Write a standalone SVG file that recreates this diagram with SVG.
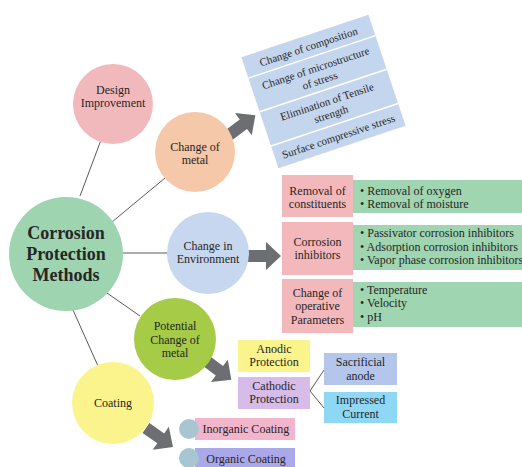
<svg xmlns="http://www.w3.org/2000/svg" width="522" height="467" viewBox="0 0 522 467" font-family="'Liberation Serif', 'DejaVu Serif', serif">
<defs>
<style>
text{font-family:'Liberation Serif','DejaVu Serif',serif;font-size:12px;fill:#262626;text-anchor:middle}
.l{text-anchor:start}
.b{font-weight:bold;font-size:18px}
.s{font-size:11px}
.ln{stroke:#595959;stroke-width:1;fill:none}
.ar{fill:#6d6e71}
</style>
<polygon id="arr" points="0,-6 18,-6 18,-14 33,0 18,14 18,6 0,6"/>
</defs>
<rect width="522" height="467" fill="#ffffff"/>
<g id="connectors">
<line class="ln" x1="80" y1="196" x2="101" y2="140"/>
<line class="ln" x1="112" y1="222" x2="165" y2="178"/>
<line class="ln" x1="123" y1="253" x2="168" y2="253"/>
<line class="ln" x1="107" y1="293" x2="140" y2="316"/>
<line class="ln" x1="73" y1="310" x2="98" y2="366"/>
<line class="ln" x1="310" y1="391" x2="324" y2="370"/>
<line class="ln" x1="310" y1="391" x2="324" y2="408"/>
<use href="#arr" class="ar" transform="translate(229,135) rotate(-37)"/>
<use href="#arr" class="ar" transform="translate(248,256)"/>
<use href="#arr" class="ar" transform="translate(205,360) rotate(37)"/>
<use href="#arr" class="ar" transform="translate(146,428) rotate(35)"/>
</g>
<g id="main">
<circle cx="66" cy="254" r="57" fill="#9fd4b0"/>
<text class="b" x="66" y="239">Corrosion</text>
<text class="b" x="66" y="260">Protection</text>
<text class="b" x="66" y="281">Methods</text>
</g>
<g id="design">
<circle cx="113" cy="104" r="40" fill="#f2b9bc"/>
<text x="113" y="94">Design</text>
<text x="113" y="107">Improvement</text>
</g>
<g id="metal">
<circle cx="195" cy="152" r="40" fill="#f4c8a8"/>
<text x="195" y="151">Change of</text>
<text x="195" y="164">metal</text>
</g>
<g id="env">
<circle cx="208" cy="253" r="41" fill="#c6d7ef"/>
<text x="208" y="250">Change in</text>
<text x="208" y="263">Environment</text>
</g>
<g id="potential">
<circle cx="175" cy="339" r="41" fill="#a5cb47"/>
<text x="175" y="330">Potential</text>
<text x="175" y="344">Change of</text>
<text x="175" y="357">metal</text>
</g>
<g id="coating">
<circle cx="113" cy="403" r="41" fill="#fbf48c"/>
<text x="113" y="407">Coating</text>
</g>
<g id="metal-list" transform="translate(323.5,91.5) rotate(-18.5)">
<rect x="-67" y="-58.5" width="134" height="117" fill="#c4d5ee"/>
<line x1="-67" y1="-36.5" x2="67" y2="-36.5" stroke="#fff" stroke-width="1.5"/>
<line x1="-67" y1="-1" x2="67" y2="-1" stroke="#fff" stroke-width="1.5"/>
<line x1="-67" y1="35" x2="67" y2="35" stroke="#fff" stroke-width="1.5"/>
<text class="s" x="0" y="-43.5">Change of composition</text>
<text class="s" x="0" y="-21">Change of microstructure</text>
<text class="s" x="0" y="-8">of stress</text>
<text class="s" x="0" y="14.5">Elimination of Tensile</text>
<text class="s" x="0" y="27.5">strength</text>
<text class="s" x="0" y="51">Surface compressive stress</text>
</g>
<g id="removal">
<rect x="353" y="180" width="169" height="33" fill="#9fd5b0"/>
<rect x="282" y="175" width="71" height="42" fill="#f3b8bb"/>
<text x="317.5" y="195">Removal of</text>
<text x="317.5" y="208">constituents</text>
<text class="l" x="360" y="195">• Removal of oxygen</text>
<text class="l" x="360" y="208">• Removal of moisture</text>
</g>
<g id="inhibitors">
<rect x="353" y="225" width="169" height="45" fill="#9fd5b0"/>
<rect x="282" y="222" width="71" height="53" fill="#f3b8bb"/>
<text x="317.5" y="246">Corrosion</text>
<text x="317.5" y="259">inhibitors</text>
<text class="l" x="360" y="237">• Passivator corrosion inhibitors</text>
<text class="l" x="360" y="251">• Adsorption corrosion inhibitors</text>
<text class="l" x="360" y="264">• Vapor phase corrosion inhibitors</text>
</g>
<g id="operative">
<rect x="353" y="282" width="169" height="45" fill="#9fd5b0"/>
<rect x="282" y="279" width="71" height="54" fill="#f3b8bb"/>
<text x="317.5" y="297">Change of</text>
<text x="317.5" y="310">operative</text>
<text x="317.5" y="324">Parameters</text>
<text class="l" x="360" y="294">• Temperature</text>
<text class="l" x="360" y="307">• Velocity</text>
<text class="l" x="360" y="321">• pH</text>
</g>
<g id="anodic">
<rect x="238" y="340" width="72" height="32" fill="#fbf48c"/>
<text x="274" y="353">Anodic</text>
<text x="274" y="366">Protection</text>
</g>
<g id="cathodic">
<rect x="238" y="377" width="72" height="32" fill="#d7bbe9"/>
<text x="274" y="390">Cathodic</text>
<text x="274" y="403">Protection</text>
</g>
<g id="sacrificial">
<rect x="324" y="353" width="73" height="32" fill="#b4c6ec"/>
<text x="360.5" y="366">Sacrificial</text>
<text x="360.5" y="380">anode</text>
</g>
<g id="impressed">
<rect x="324" y="392" width="73" height="31" fill="#8fd8f5"/>
<text x="360.5" y="404">Impressed</text>
<text x="360.5" y="418">Current</text>
</g>
<g id="inorganic">
<rect x="195" y="418" width="100" height="22" fill="#f3b5cc"/>
<circle cx="189" cy="429" r="10" fill="#a7c6d2"/>
<text x="246" y="433">Inorganic Coating</text>
</g>
<g id="organic">
<rect x="195" y="448" width="100" height="20" fill="#aba8ea"/>
<circle cx="189" cy="458" r="10" fill="#a7c6d2"/>
<text x="246" y="463">Organic Coating</text>
</g>
</svg>
